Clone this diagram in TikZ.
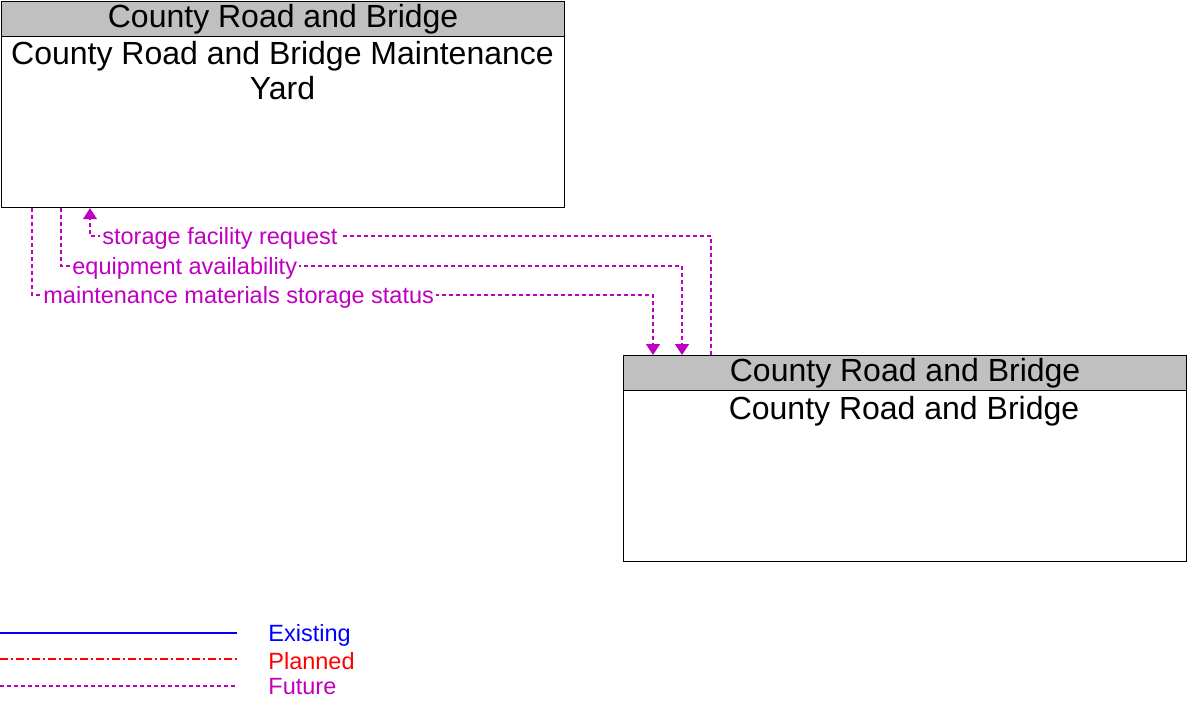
\documentclass[tikz,border=0pt]{standalone}
\usepackage{fontspec}
\setmainfont{Liberation Sans}
\usepackage{tikz}
\usetikzlibrary{arrows.meta, positioning, calc}
\definecolor{flowmag}{RGB}{192,0,192}
\definecolor{hdrgray}{RGB}{192,192,192}
\definecolor{exblue}{RGB}{0,0,255}
\definecolor{plred}{RGB}{255,0,0}
\tikzset{
    element/.style={rectangle, draw, line width=0.6pt, minimum width=281.5pt, minimum height=103pt, anchor=north west, inner sep=0pt},
    header/.style={rectangle, draw, line width=0.6pt, fill=hdrgray, minimum width=281.5pt, minimum height=17.5pt, anchor=north west, inner sep=0pt, font=\fontsize{16}{17.5}\selectfont},
    bodytext/.style={anchor=north, align=center, inner sep=1pt, font=\fontsize{16}{17.5}\selectfont},
    flow/.style={draw=flowmag, line width=0.6pt, dash pattern=on 2pt off 1.5pt, -{Triangle[width=7pt, length=5.5pt, fill=flowmag]}},
    flowlabel/.style={text=flowmag, fill=white, anchor=west, inner xsep=1pt, inner ysep=0.5pt, font=\fontsize{11.75}{13}\selectfont},
    existing/.style={draw=exblue, line width=0.6pt},
    planned/.style={draw=plred, line width=0.6pt, dash pattern=on 4pt off 1.5pt on 1pt off 1.5pt},
    future/.style={draw=flowmag, line width=0.6pt, dash pattern=on 2pt off 1.5pt},
    legendtext/.style={anchor=west, inner sep=0pt, font=\fontsize{11.75}{13}\selectfont}
}
\begin{document}
\begin{tikzpicture}[x=0.5pt, y=-0.5pt]
        \useasboundingbox (0,0) rectangle (1200,714);

        % Elements
        \node (yard) [element] at (1,1) {};
        \node (yardhdr) [header] at (1,1) {County Road and Bridge};
        \node (yardtxt) [bodytext] at (282.5,39) {County Road and Bridge Maintenance\\ Yard};

        \node (crb) [element] at (623,355) {};
        \node (crbhdr) [header] at (623,355) {County Road and Bridge};
        \node (crbtxt) [bodytext] at (904,394) {County Road and Bridge};

        % Flows
        \coordinate (sfrA) at ($(crb.north west)+(88,0)$);
        \coordinate (sfrB) at ($(yard.south west)+(89,0)$);
        \coordinate (eqaA) at ($(yard.south west)+(60,0)$);
        \coordinate (eqaB) at ($(crb.north west)+(59,0)$);
        \coordinate (mssA) at ($(yard.south west)+(31,0)$);
        \coordinate (mssB) at ($(crb.north west)+(30,0)$);

        \draw [flow] (sfrA) -- (sfrA |- 0,236) -- (sfrB |- 0,236) -- (sfrB);
        \draw [flow] (eqaA) -- (eqaA |- 0,266) -- (eqaB |- 0,266) -- (eqaB);
        \draw [flow] (mssA) -- (mssA |- 0,295) -- (mssB |- 0,295) -- (mssB);

        % Labels
        \node (sfr) [flowlabel] at (100,238) {storage facility request};
        \node (eqa) [flowlabel] at (70,268) {equipment availability};
        \node (mss) [flowlabel] at (41,297) {maintenance materials storage status};

        % Legend
        \coordinate (ex1) at (0,633);
        \coordinate (ex2) at (237,633);
        \coordinate (pl1) at (0,659);
        \coordinate (pl2) at (237,659);
        \coordinate (fu1) at (0,686);
        \coordinate (fu2) at (237,686);
        \draw [existing] (ex1) -- (ex2);
        \draw [planned] (pl1) -- (pl2);
        \draw [future] (fu1) -- (fu2);
        \node (exlbl) [legendtext, text=exblue] at (268,635) {Existing};
        \node (pllbl) [legendtext, text=plred] at (268,661) {Planned};
        \node (fulbl) [legendtext, text=flowmag] at (268,687) {Future};
    \end{tikzpicture}
\end{document}
